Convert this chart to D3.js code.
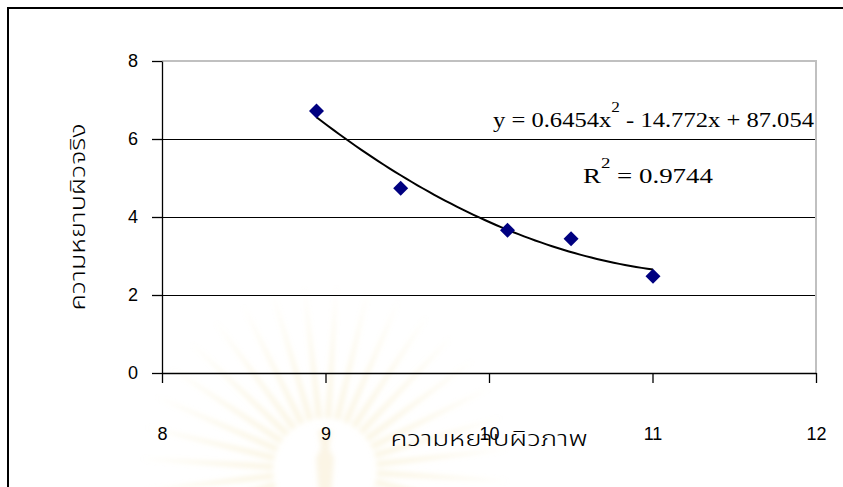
<!DOCTYPE html>
<html>
<head>
<meta charset="utf-8">
<script src="https://cdn.jsdelivr.net/npm/d3@7/dist/d3.min.js"></script>
<style>
  html, body { margin: 0; padding: 0; background: #fff; }
  svg { display: block; }
</style>
</head>
<body>
<svg id="chart" width="843" height="487"></svg>
<script>
// Measured surface roughness: image-based (x) vs. actual (y)
const imageRoughness = [8.945, 9.46, 10.113, 10.502, 11.003];
const actualRoughness = [6.72, 4.74, 3.66, 3.44, 2.48];

// Polynomial trendline coefficients (y = a x^2 + b x + c) and fit quality
const trendCoef = [0.6454, -14.772, 87.054];
const rSquared = 0.9744;

const xTicks = [8, 9, 10, 11, 12];
const yTicks = [0, 2, 4, 6, 8];
const xTitle = "ความหยาบผิวภาพ";
const yTitle = "ความหยาบผิวจริง";

const svg = d3.select("#chart");
const W = 843, H = 487;
const plot = { left: 162, right: 816, top: 61, bottom: 373 };

const x = d3.scaleLinear().domain([8, 12]).range([plot.left, plot.right]);
const y = d3.scaleLinear().domain([0, 8]).range([plot.bottom, plot.top]);

// Outer chart frame
svg.append("rect")
  .attr("x", 8).attr("y", 8).attr("width", W + 20).attr("height", H + 20)
  .attr("fill", "#fff").attr("stroke", "#000").attr("stroke-width", 2);

// Faint sunburst emblem in the background
const defs = svg.append("defs");
defs.append("filter").attr("id", "soft")
  .append("feGaussianBlur").attr("stdDeviation", 2.5);
const emblem = svg.append("g")
  .attr("transform", "translate(325,470)")
  .attr("filter", "url(#soft)");
const rays = 36;
for (let i = 0; i < rays; i++) {
  const a0 = (i / rays) * 2 * Math.PI;
  const a1 = a0 + (0.7 / rays) * 2 * Math.PI;
  const am = (a0 + a1) / 2;
  const r0 = 52, r1 = 185;
  emblem.append("path")
    .attr("d", `M${r0 * Math.cos(a0)},${r0 * Math.sin(a0)} L${r1 * Math.cos(am)},${r1 * Math.sin(am)} L${r0 * Math.cos(a1)},${r0 * Math.sin(a1)} Z`)
    .attr("fill", "#f3e2ad").attr("opacity", 0.32);
}
emblem.append("path")
  .attr("d", "M-7,-40 L7,-40 L4,-22 L9,-12 L5,40 L-5,40 L-9,-12 L-4,-22 Z")
  .attr("fill", "#f1dfa8").attr("opacity", 0.3);

// Horizontal gridlines
svg.append("g").selectAll("line")
  .data(yTicks.filter(t => t > 0 && t < 8))
  .join("line")
  .attr("x1", plot.left).attr("x2", plot.right)
  .attr("y1", d => y(d) + 0.5).attr("y2", d => y(d) + 0.5)
  .attr("stroke", "#000").attr("stroke-width", 1.2);

// Plot area border (top and right)
svg.append("path")
  .attr("d", `M${plot.left},${plot.top} H${plot.right} V${plot.bottom}`)
  .attr("fill", "none").attr("stroke", "#c0c0c0").attr("stroke-width", 2);

// Axes
const axisFont = "'Liberation Sans', Arial, sans-serif";
const yAxis = svg.append("g")
  .attr("transform", `translate(${plot.left},0)`)
  .call(d3.axisLeft(y).tickValues(yTicks).tickFormat(d3.format("d"))
    .tickSizeInner(10).tickSizeOuter(0).tickPadding(14));
const xAxis = svg.append("g")
  .attr("transform", `translate(0,${plot.bottom})`)
  .call(d3.axisBottom(x).tickValues(xTicks).tickFormat(d3.format("d"))
    .tickSizeInner(10).tickSizeOuter(0).tickPadding(44));
[yAxis, xAxis].forEach(g => {
  g.select(".domain").attr("stroke", "#000").attr("stroke-width", 1.3);
  g.selectAll(".tick line").attr("stroke", "#000").attr("stroke-width", 1.3);
  g.selectAll(".tick text")
    .attr("fill", "#000").style("font-family", axisFont).style("font-size", "18px");
});

// Trendline over the data range
const poly = v => trendCoef[0] * v * v + trendCoef[1] * v + trendCoef[2];
const [xMin, xMax] = d3.extent(imageRoughness);
const curveX = d3.range(0, 61).map(i => xMin + (xMax - xMin) * i / 60);
svg.append("path")
  .datum(curveX)
  .attr("d", d3.line().x(d => x(d)).y(d => y(poly(d))))
  .attr("fill", "none").attr("stroke", "#000").attr("stroke-width", 2);

// Data markers (square diamonds)
const s = 7.5;
svg.append("g").selectAll("path")
  .data(imageRoughness.map((v, i) => [v, actualRoughness[i]]))
  .join("path")
  .attr("d", d => `M${x(d[0])},${y(d[1]) - s} L${x(d[0]) + s},${y(d[1])} L${x(d[0])},${y(d[1]) + s} L${x(d[0]) - s},${y(d[1])} Z`)
  .attr("fill", "#000080");

// Trendline equation and R²
const serif = "'Liberation Serif', 'Times New Roman', serif";
const eq = svg.append("text")
  .attr("x", 493).attr("y", 127)
  .attr("textLength", 321).attr("lengthAdjust", "spacingAndGlyphs")
  .style("font-family", serif).style("font-size", "20px").attr("fill", "#000");
eq.append("tspan").text(`y = ${trendCoef[0]}x`);
eq.append("tspan").attr("dy", -15).style("font-size", "14px").text("2");
eq.append("tspan").attr("dy", 15).text(` - ${Math.abs(trendCoef[1])}x + ${trendCoef[2]}`);

const r2 = svg.append("text")
  .attr("x", 583).attr("y", 183)
  .attr("textLength", 130).attr("lengthAdjust", "spacingAndGlyphs")
  .style("font-family", serif).style("font-size", "20px").attr("fill", "#000");
r2.append("tspan").text("R");
r2.append("tspan").attr("dy", -15).style("font-size", "14px").text("2");
r2.append("tspan").attr("dy", 15).text(` = ${rSquared}`);

// Axis titles
const thaiFont = "'Noto Sans Thai', 'Loma', 'Garuda', 'Norasi', 'Noto Sans', sans-serif";
svg.append("text")
  .attr("x", 489).attr("y", 446)
  .attr("text-anchor", "middle")
  .style("font-family", thaiFont).style("font-size", "21px").style("font-weight", 300)
  .attr("fill", "#000")
  .attr("textLength", 197).attr("lengthAdjust", "spacingAndGlyphs")
  .text(xTitle);
svg.append("text")
  .attr("transform", "translate(85,217) rotate(-90)")
  .attr("text-anchor", "middle")
  .style("font-family", thaiFont).style("font-size", "21px").style("font-weight", 300)
  .attr("fill", "#000")
  .attr("textLength", 187).attr("lengthAdjust", "spacingAndGlyphs")
  .text(yTitle);
</script>
</body>
</html>
